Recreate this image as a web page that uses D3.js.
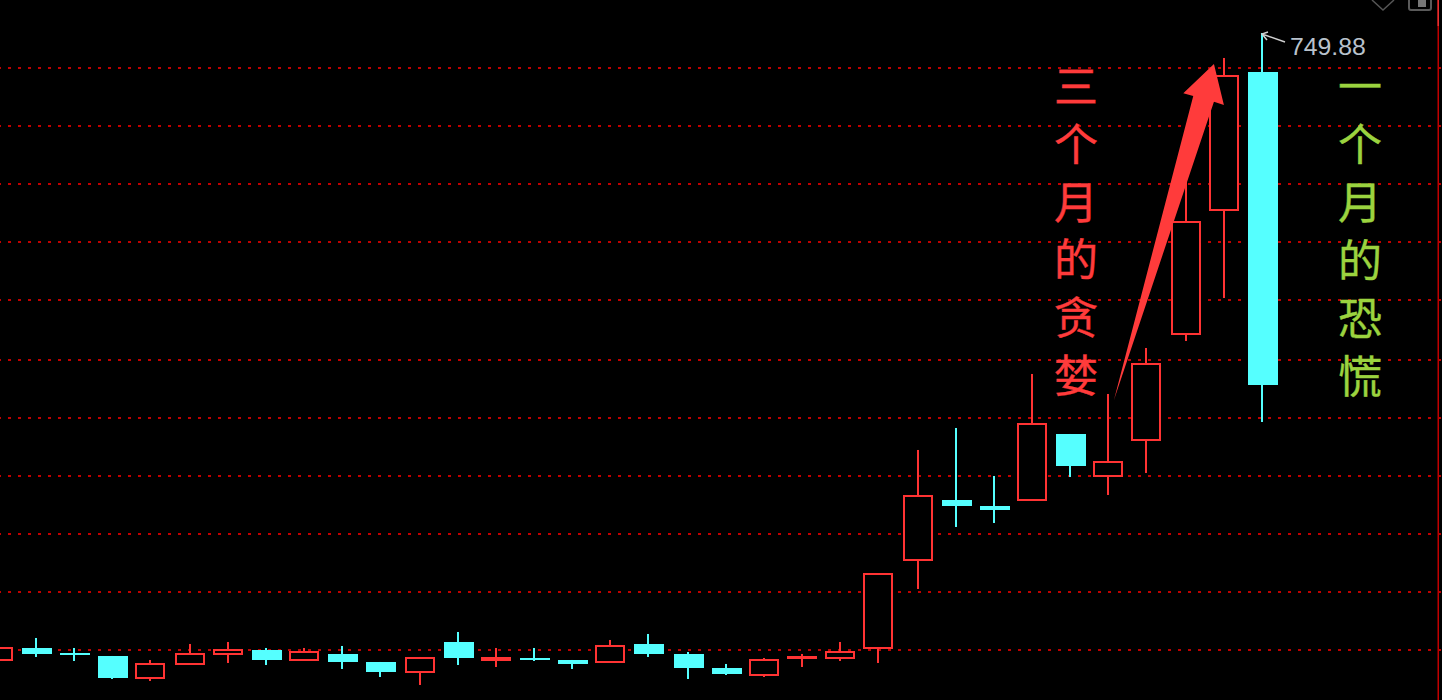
<!DOCTYPE html>
<html><head><meta charset="utf-8">
<script src="https://cdn.jsdelivr.net/npm/d3@7/dist/d3.min.js"></script>
<style>html,body{margin:0;padding:0;background:#000;overflow:hidden}svg{display:block}</style>
</head><body><svg id="c" width="1442" height="700"></svg>
<script>
// candle values (price units)
const candleIndex = d3.range(34);
const highs  = [135.9,144.9,134.9,126.9,122.9,138.9,140.9,134.9,134.9,136.9,120.9,125.9,150.9,134.9,134.9,122.9,142.9,148.9,130.9,118.9,124.9,128.9,140.9,208.9,332.9,354.9,306.9,408.9,348.9,388.9,434.9,600.9,724.9,749.88];
const lows   = [121.9,125.9,121.9,103.9,101.9,117.9,119.9,117.9,121.9,113.9,105.9,97.9,117.9,115.9,121.9,113.9,119.9,125.9,103.9,107.9,105.9,115.9,121.9,119.9,193.9,255.9,259.9,282.9,305.9,287.9,309.9,441.9,484.9,360.9];
const tops   = [134.9,134.9,129.9,126.9,118.4,128.9,132.9,132.9,130.9,128.9,120.9,124.9,140.9,124.9,124.9,122.9,136.9,138.9,128.9,114.9,122.4,125.4,130.9,208.9,286.9,282.9,276.9,358.9,348.9,320.9,418.9,560.9,706.9,710.9];
const bottoms= [122.9,128.9,127.9,104.9,104.9,118.9,128.9,122.9,122.9,120.9,110.9,110.9,124.9,122.9,122.9,118.9,120.9,128.9,114.9,108.9,107.4,124.4,124.9,134.9,222.9,276.9,272.9,282.9,316.9,306.9,342.9,448.9,572.9,397.9];
const falling= [0,1,1,1,0,0,0,1,0,1,1,0,1,0,1,1,0,1,1,1,0,0,0,0,0,1,1,0,1,0,0,0,0,1];
const gridPrices = [132.88,190.88,248.88,306.88,364.88,422.88,482.88,540.88,598.88,656.88,714.88];
const peakLabel = "749.88";
const greedChars = ["三","个","月","的","贪","婪"];
const fearChars  = ["一","个","月","的","恐","慌"];
// arrow outline in [candle index, price]
const arrowPts = [[29.14,382.88],[31.21,686.88],[30.95,689.58],[31.75,718.88],[32.01,677.88],[31.75,681.18]];

const RED="#ff3333", CYAN="#55ffff", GRID="#c00000";
const svg=d3.select("#c");
const x=d3.scaleLinear().domain([0,33]).range([-2.4,1261.83]);
const y=d3.scaleLinear().domain([82.88,782.88]).range([700,0]);
const xPix=i=>Math.round(x(i)/2)*2;   // the platform snaps candles to even pixels
svg.append("rect").attr("width",1442).attr("height",700).attr("fill","#000");

// grid
svg.append("g").selectAll("line").data(gridPrices).join("line")
 .attr("x1",-2).attr("x2",1442).attr("y1",d=>Math.round(y(d))).attr("y2",d=>Math.round(y(d)))
 .attr("stroke",GRID).attr("stroke-width",2).attr("stroke-dasharray","3 7");

// right edge
svg.append("rect").attr("x",1437.5).attr("y",0).attr("width",1.5).attr("height",700).attr("fill","#c00000");
svg.append("rect").attr("x",1437.5).attr("y",0).attr("width",1.5).attr("height",26).attr("fill","#e83030");

// candles
const g=svg.append("g");
candleIndex.forEach(i=>{
  const cx=xPix(i), col=falling[i]?CYAN:RED;
  const t=Math.round(y(tops[i])), b=Math.round(y(bottoms[i]));
  g.append("rect").attr("x",cx-1).attr("width",2).attr("y",y(highs[i])).attr("height",y(lows[i])-y(highs[i])).attr("fill",col);
  if(falling[i]){
    g.append("rect").attr("x",cx-14).attr("width",30).attr("y",t).attr("height",Math.max(2,b-t)).attr("fill",col);
  }else{
    g.append("rect").attr("x",cx-14).attr("width",28).attr("y",t).attr("height",Math.max(1,b-t)).attr("fill","#000").attr("stroke",col).attr("stroke-width",2);
  }
});

// arrow
svg.append("polygon").attr("points",arrowPts.map(p=>[x(p[0]),y(p[1])].join(",")).join(" ")).attr("fill","#ff3b3b");

// vertical annotations
const font='"Noto Sans CJK SC","Noto Sans CJK JP",sans-serif';
function col(chars,cx,y0,step,color){
  svg.append("g").selectAll("text").data(chars).join("text")
   .attr("x",cx).attr("y",(d,i)=>y0+i*step).attr("text-anchor","middle")
   .attr("font-family",font).attr("font-size",44).attr("font-weight",400)
   .attr("fill",color).attr("stroke",color).attr("stroke-width",0.4).text(d=>d);
}
col(greedChars,1076,103,57.8,"#ff3b3b");
col(fearChars,1360,103,58,"#9bd33f");

// peak label
svg.append("text").attr("x",1290).attr("y",55).attr("font-family",'"Liberation Sans",Arial,sans-serif').attr("font-size",24.8).attr("fill","#b9c2cc").text(peakLabel);
const px=xPix(33), py=y(749.88);
svg.append("path").attr("d",`M${px+23},${py+9} L${px},${py+1} M${px+6},${py-1} L${px},${py+1} L${px+5},${py+7}`).attr("fill","none").attr("stroke","#cfcfcf").attr("stroke-width",1.5);

// toolbar glyphs at top right
svg.append("path").attr("d","M1372,0 L1383,10 L1394,0").attr("fill","none").attr("stroke","#555").attr("stroke-width",1.5);
svg.append("path").attr("d","M1409,0 L1409,8 Q1409,10 1411,10 L1429,10 Q1431,10 1431,8 L1431,0").attr("fill","none").attr("stroke","#5a5a5a").attr("stroke-width",2);
svg.append("rect").attr("x",1418).attr("y",0).attr("width",8).attr("height",7).attr("fill","#777");
</script></body></html>
